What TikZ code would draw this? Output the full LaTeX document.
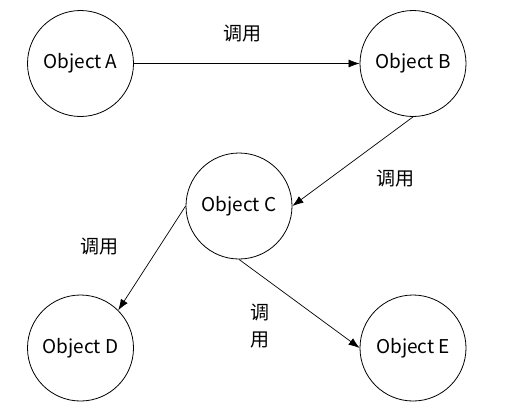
\documentclass[tikz,border=0pt]{standalone}
\usepackage{fontspec}
\setmainfont{Noto Sans CJK SC}
\usetikzlibrary{arrows.meta}
\begin{document}
\begin{tikzpicture}[x=1bp,y=-1bp,
  obj/.style={draw, circle, line width=0.8bp, minimum size=106bp, inner sep=0pt, font=\fontsize{19bp}{23bp}\selectfont},
  call/.style={draw, line width=0.7bp, -{Latex[length=11bp,width=8bp]}},
  lbl/.style={font=\fontsize{19bp}{27bp}\selectfont, inner sep=0pt, align=center}]
\useasboundingbox (0,0) rectangle (505,417);
\node[obj] (A) at (80.5,63.5) {Object A};
\node[obj] (B) at (413,63.5) {Object B};
\node[obj] (C) at (239,206) {Object C};
\node[obj] (D) at (80.5,348) {Object D};
\node[obj] (E) at (413,348) {Object E};
\draw[call] (A) -- (B);
\draw[call] (B.south) -- (C.east);
\draw[call] (C.west) -- (D.north east);
\draw[call] (C.south) -- (E.west);
\node[lbl] (l1) at (242,34) {调用};
\node[lbl] (l2) at (395,179) {调用};
\node[lbl] (l3) at (99,247) {调用};
\node[lbl] (l4) at (260,326.5) {调\\用};
\end{tikzpicture}
\end{document}
